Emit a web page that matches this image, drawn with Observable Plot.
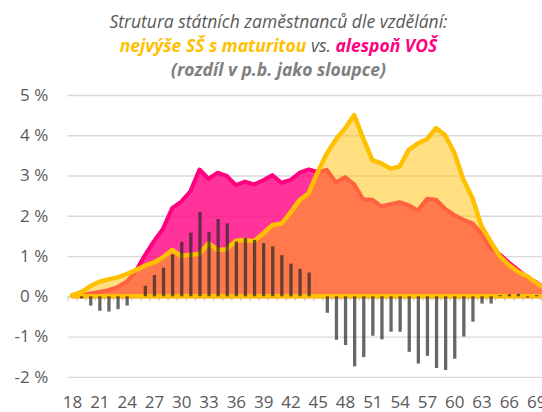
<!DOCTYPE html>
<html>
<head>
<meta charset="utf-8">
<script src="https://cdn.jsdelivr.net/npm/d3@7"></script>
<script src="https://cdn.jsdelivr.net/npm/@observablehq/plot@0.6"></script>
<style>
  html, body { margin: 0; padding: 0; background: #fff; overflow: hidden; }
  #wrap { width: 557px; font-family: "Open Sans", sans-serif; }
  .title { text-align: center; font-style: italic; color: #595959; font-size: 17.5px; line-height: 24px; padding-top: 9px; height: 75px; }
  .title b { font-weight: 700; }
  .l3 { color: #7f7f7f; }
</style>
</head>
<body>
<div id="wrap">
  <div class="title">
    <div class="l1">Strutura státních zaměstnanců dle vzdělání:</div>
    <div class="l2"><b style="color:#ffc000">nejvýše SŠ s maturitou</b> vs. <b style="color:#ff0080">alespoň VOŠ</b></div>
    <div class="l3"><b>(rozdíl v p.b. jako sloupce)</b></div>
  </div>
  <div id="chart"></div>
</div>
<script>
const ages = d3.range(18, 71);
// alespoň VOŠ (% share by age)
const vos = [0.00, 0.01, 0.07, 0.11, 0.15, 0.23, 0.36, 0.62, 1.02, 1.37, 1.68, 2.19, 2.35, 2.61, 3.15, 2.92, 3.07, 2.99,
             2.76, 2.85, 2.78, 2.88, 3.01, 2.82, 2.89, 3.07, 3.15, 3.09, 3.14, 2.83, 2.96, 2.78, 2.41, 2.40, 2.23, 2.29,
             2.34, 2.26, 2.13, 2.42, 2.40, 2.17, 2.02, 1.90, 1.81, 1.56, 1.19, 1.04, 0.84, 0.66, 0.47, 0.35, 0.20];
// nejvýše SŠ s maturitou (% share by age)
const ss  = [0.03, 0.10, 0.25, 0.36, 0.42, 0.47, 0.55, 0.65, 0.76, 0.84, 0.97, 1.15, 1.00, 1.03, 1.05, 1.32, 1.15, 1.17,
             1.38, 1.40, 1.37, 1.56, 1.77, 1.80, 2.08, 2.39, 2.56, 3.09, 3.55, 3.90, 4.17, 4.50, 3.92, 3.38, 3.30, 3.17,
             3.22, 3.64, 3.80, 3.90, 4.18, 4.00, 3.57, 2.90, 2.44, 1.74, 1.36, 1.00, 0.78, 0.61, 0.50, 0.33, 0.20];
// rozdíl v p.b. (columns)
const diff = [0.00, -0.05, -0.23, -0.36, -0.38, -0.32, -0.23, 0.00, 0.26, 0.53, 0.71, 1.04, 1.35, 1.58, 2.10, 1.60, 1.92, 1.81,
              1.36, 1.45, 1.40, 1.32, 1.24, 1.02, 0.81, 0.68, 0.59, 0.00, -0.41, -1.08, -1.21, -1.74, -1.51, -0.98, -1.07, -0.88,
              -0.88, -1.38, -1.67, -1.48, -1.78, -1.83, -1.55, -1.00, -0.63, -0.18, -0.18, 0.03, 0.05, 0.06, -0.03, 0.03, 0.00];
const xTicks = [18, 21, 24, 27, 30, 33, 36, 39, 42, 45, 48, 51, 54, 57, 60, 63, 66, 69];
const yTicks = [-2, -1, 0, 1, 2, 3, 4, 5];

const rows = ages.map((a, i) => ({age: a, vos: vos[i], ss: ss[i], diff: diff[i]}));
const boundaries = ages.map(a => a - 0.5);

const chart = Plot.plot({
  width: 557,
  height: 328,
  marginLeft: 67.5,
  marginRight: 7.2,
  marginTop: 11,
  marginBottom: 35.2,
  style: {fontFamily: "Open Sans, sans-serif", fontSize: "17px", color: "#595959", background: "#fff"},
  x: {domain: [17.5, 70.5], label: null},
  y: {domain: [-2, 5], label: null},
  marks: [
    Plot.gridY(yTicks, {stroke: "#d9d9d9", strokeOpacity: 1, strokeWidth: 1.3}),
    Plot.ruleX(boundaries, {y1: 0, y2: -0.12, stroke: "#cfcfcf", strokeWidth: 1.3}),
    Plot.areaY(rows, {x: "age", y: "vos", fill: "#ff0080", fillOpacity: 0.8, stroke: "#ff0080", strokeWidth: 4, strokeLinejoin: "round"}),
    Plot.areaY(rows, {x: "age", y: "ss", fill: "#ffc000", fillOpacity: 0.5, stroke: "#ffc000", strokeWidth: 4.5, strokeLinejoin: "round"}),
    Plot.ruleX(rows, {x: "age", y1: 0, y2: "diff", stroke: "#262626", strokeOpacity: 0.7, strokeWidth: 3.3}),
    Plot.axisY(yTicks, {tickSize: 0, tickPadding: 19.8, tickFormat: d => `${d} %`, fontSize: 17, label: null}),
    Plot.axisX(xTicks, {tickSize: 0, tickPadding: 18.5, tickFormat: d => String(d), fontSize: 17, label: null})
  ]
});
document.getElementById("chart").appendChild(chart);
</script>
</body>
</html>
